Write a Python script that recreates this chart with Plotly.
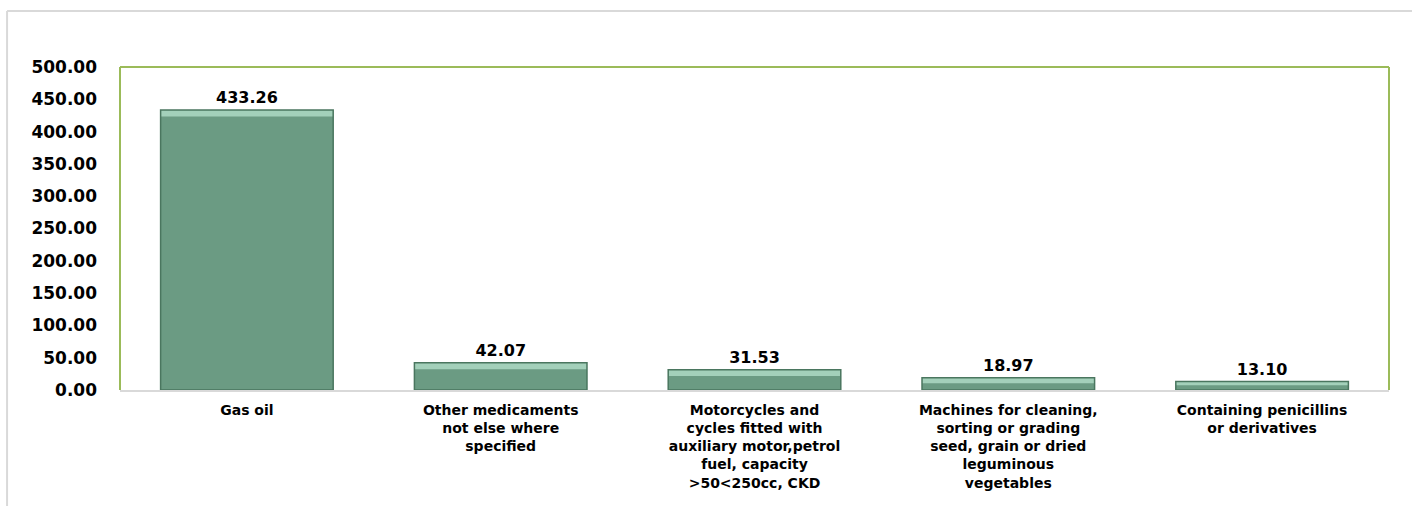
import plotly.graph_objects as go

categories = [
    "Gas oil",
    "Other medicaments<br>not else where<br>specified",
    "Motorcycles and<br>cycles fitted with<br>auxiliary motor,petrol<br>fuel, capacity<br>&gt;50&lt;250cc, CKD",
    "Machines for cleaning,<br>sorting or grading<br>seed, grain or dried<br>leguminous<br>vegetables",
    "Containing penicillins<br>or derivatives",
]
values = [433.26, 42.07, 31.53, 18.97, 13.10]
value_labels = ["433.26", "42.07", "31.53", "18.97", "13.10"]

FONT = "DejaVu Sans"
GREEN_BORDER = "#9bbb59"
GRAY = "#d9d9d9"
BAR_W = 0.68

fig = go.Figure()

# top bevel highlight (derived from data values), drawn underneath the outlined bar
band = 10.0
fig.add_trace(go.Bar(
    x=categories,
    y=values,
    width=BAR_W,
    marker=dict(color="#6b9b83", line=dict(width=0)),
    hoverinfo="skip",
))
fig.add_trace(go.Bar(
    x=categories,
    y=[min(band, v * 0.45) for v in values],
    base=[v - min(band, v * 0.45) for v in values],
    marker=dict(color="#a3d0ba", line=dict(width=0)),
    width=BAR_W,
    hoverinfo="skip",
))
fig.add_trace(go.Bar(
    x=categories,
    y=values,
    width=BAR_W,
    text=value_labels,
    textposition="outside",
    textfont=dict(family=FONT, size=16, color="black", weight="bold"),
    cliponaxis=False,
    marker=dict(color="rgba(0,0,0,0)", line=dict(color="#4a765f", width=1.5)),
))

fig.update_layout(
    width=1412, height=506,
    margin=dict(l=120, r=23, t=67, b=116),
    paper_bgcolor="white", plot_bgcolor="white",
    showlegend=False,
    barmode="overlay",
    font=dict(family=FONT, color="black"),
    xaxis=dict(
        showline=True, linecolor=GRAY, linewidth=2,
        showgrid=False, ticks="",
        tickfont=dict(family=FONT, size=14, color="black", weight="bold"),
        tickangle=0,
        ticklabelstandoff=6,
    ),
    yaxis=dict(
        range=[0, 500], dtick=50, tickformat=".2f",
        showgrid=False, zeroline=False, showline=False,
        ticks="", ticklabelstandoff=22,
        tickfont=dict(family=FONT, size=17, color="black", weight="bold"),
    ),
    shapes=[
        dict(type="line", xref="paper", yref="paper", x0=0, x1=0, y0=0, y1=1,
             line=dict(color=GREEN_BORDER, width=2)),
        dict(type="line", xref="paper", yref="paper", x0=0, x1=1, y0=1, y1=1,
             line=dict(color=GREEN_BORDER, width=2)),
        dict(type="line", xref="paper", yref="paper", x0=1, x1=1, y0=0, y1=1,
             line=dict(color=GREEN_BORDER, width=2)),
        dict(type="line", xref="paper", yref="paper", x0=-0.089, x1=-0.089, y0=1.173, y1=-0.4,
             line=dict(color=GRAY, width=2)),
        dict(type="line", xref="paper", yref="paper", x0=-0.089, x1=1.03, y0=1.173, y1=1.173,
             line=dict(color=GRAY, width=2)),
    ],
)

fig.write_html("out.html")
